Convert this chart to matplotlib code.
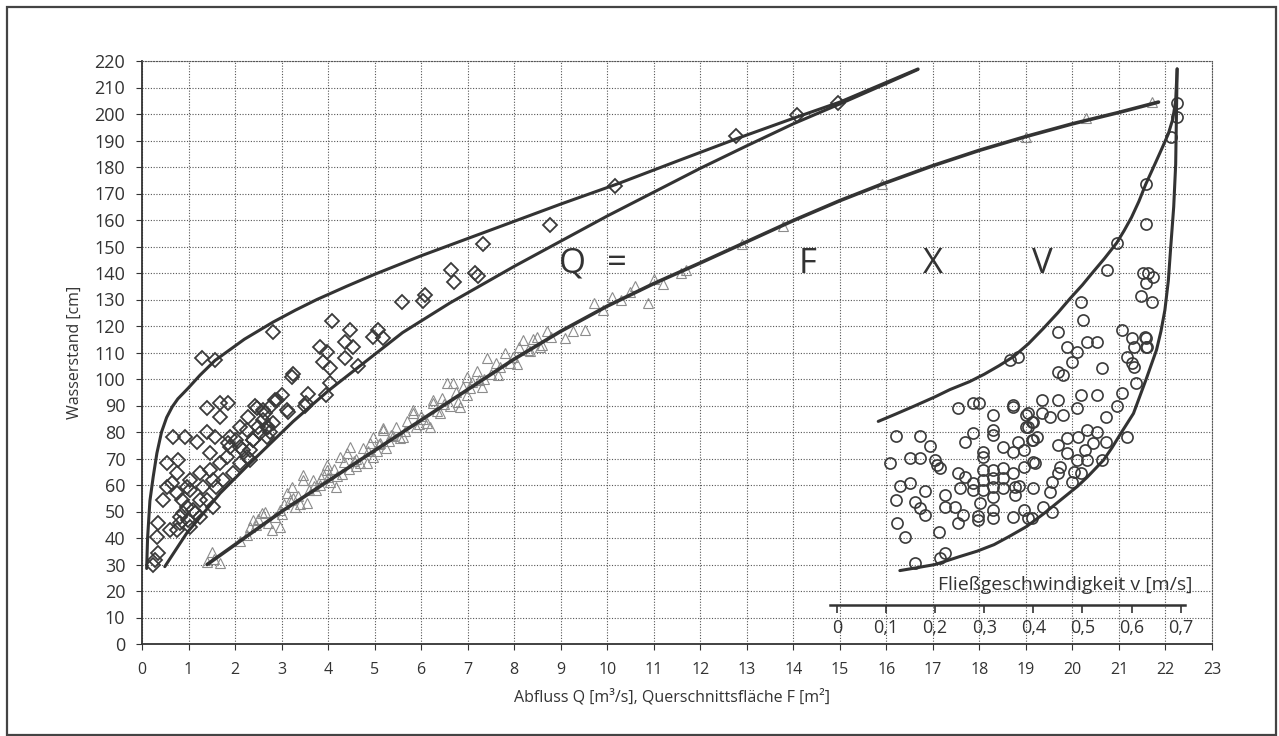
import matplotlib
matplotlib.use("Agg")
import matplotlib.pyplot as plt
from matplotlib.patches import Rectangle

plt.rcParams['font.family'] = ['Open Sans', 'DejaVu Sans']

# --- Abfluss Q [m3/s] vs Wasserstand [cm] (diamonds) ---
q_abfluss = [0.24, 0.28, 0.34, 0.32, 0.34, 0.45, 0.53, 0.64, 0.53, 0.77, 0.67, 0.92, 1.18, 1.28, 1.57,
             0.6, 0.96, 0.99, 0.82, 1.14, 1.25, 0.85, 0.75, 1.03, 1.31, 1.6, 1.25, 1.46, 1.68, 1.46,
             1.82, 1.89, 2.03, 2.25, 2.32, 2.1, 1.96, 1.74, 1.53, 1.25, 1.03, 0.82, 0.75, 0.96, 0.75,
             1.03, 1.39, 1.53, 1.1, 0.89, 2.39, 2.54, 2.68, 2.82, 2.6, 2.25, 2.1, 2.1, 2.68, 1.39,
             1.57, 1.85, 1.89, 1.68, 1.85, 1.39, 1.68, 2.28, 2.47, 2.43, 2.64, 2.75, 2.9, 3.0, 3.14,
             3.25, 3.22, 3.53, 3.57, 3.96, 4.04, 2.82, 4.08, 4.47, 4.54, 4.36, 3.83, 3.89, 4.04, 4.36,
             4.64, 4.97, 5.07, 5.18, 3.11, 2.86, 2.6, 2.5, 2.71, 2.75, 2.39, 2.18, 2.32, 3.5, 3.97,
             5.59, 6.08, 6.04, 6.64, 6.71, 7.16, 7.22, 7.33, 8.77, 10.17, 12.77, 14.08, 14.96]
h_abfluss = [29.8, 31.7, 34.3, 40.5, 45.6, 54.3, 68.2, 60.7, 59.4, 69.4, 78.2, 78.2, 76.3, 107.8, 107.0,
             43.0, 51.8, 46.8, 48.0, 49.4, 54.3, 54.3, 57.0, 58.0, 59.4, 59.4, 64.5, 65.7, 68.2, 72.0,
             70.7, 74.5, 77.0, 70.7, 73.2, 68.2, 64.5, 61.9, 61.9, 48.0, 44.3, 45.6, 43.0, 59.4, 64.5,
             61.9, 54.3, 51.8, 50.6, 49.4, 77.0, 79.6, 82.0, 83.4, 84.5, 80.8, 82.0, 74.5, 78.2, 80.0,
             78.0, 75.8, 78.2, 85.8, 91.0, 89.0, 91.0, 85.8, 89.0, 90.0, 87.0, 89.6, 92.0, 94.0, 87.7,
             102.0, 100.6, 91.0, 94.4, 94.0, 98.4, 117.6, 122.0, 118.5, 112.0, 114.0, 112.0, 106.5, 104.0, 108.0,
             105.0, 116.0, 118.5, 115.5, 88.3, 92.0, 88.3, 82.0, 82.0, 80.0, 77.0, 73.2, 69.4, 89.8, 110.3,
             129.0, 131.7, 129.4, 141.0, 136.6, 140.0, 139.0, 151.0, 158.0, 173.0, 191.7, 199.6, 204.0]

# --- Querschnittsflaeche F [m2] vs Wasserstand [cm] (triangles) ---
f_flaeche = [1.39, 1.5, 1.68, 1.55, 2.32, 2.39, 2.25, 2.5, 2.57, 2.64, 2.79, 2.85, 2.97, 2.97, 3.05,
             3.11, 3.18, 3.22, 3.29, 3.35, 3.46, 3.47, 3.54, 3.6, 3.68, 3.75, 3.82, 3.9, 3.97, 3.97,
             4.05, 4.12, 4.18, 4.26, 4.3, 4.4, 4.45, 4.47, 4.55, 4.61, 4.69, 4.75, 4.83, 4.9, 4.97,
             4.97, 5.05, 5.12, 5.18, 5.19, 5.25, 5.35, 5.45, 5.55, 5.62, 5.7, 5.83, 5.83, 5.9, 6.0,
             6.12, 6.19, 6.26, 6.26, 6.35, 6.45, 6.55, 6.62, 6.69, 6.75, 6.84, 6.9, 6.98, 6.98, 7.1,
             7.2, 7.3, 7.41, 7.5, 7.6, 7.7, 7.8, 7.9, 7.98, 8.1, 8.2, 8.3, 8.4, 8.49, 8.6,
             8.7, 8.8, 9.27, 9.52, 9.72, 9.9, 10.1, 10.3, 10.5, 10.6, 10.88, 11.0, 11.2, 11.58, 11.7,
             12.9, 13.78, 15.9, 19.0, 20.3, 21.7,
             2.1, 2.7, 3.0, 3.4, 3.7, 4.0, 4.35, 4.6, 4.85, 5.1, 5.4, 5.65, 6.05, 6.4, 6.8,
             7.05, 7.35, 7.65, 8.05, 8.35, 8.55, 9.1, 2.45, 3.25, 3.85, 4.2, 5.3, 5.95, 6.5, 7.25]
h_flaeche = [31.0, 34.8, 30.4, 32.0, 44.3, 46.8, 41.0, 47.0, 49.4, 49.9, 43.0, 48.0, 44.3, 50.6, 53.0,
             56.9, 54.3, 59.4, 51.8, 56.0, 61.9, 63.8, 53.2, 58.0, 62.0, 58.0, 60.0, 64.0, 65.7, 67.5,
             61.0, 66.0, 59.4, 70.7, 64.0, 72.0, 66.0, 74.5, 69.0, 67.0, 68.2, 74.0, 68.2, 76.0, 70.7,
             78.2, 73.0, 76.0, 80.8, 81.4, 74.0, 79.0, 82.0, 77.7, 78.2, 84.0, 87.0, 88.3, 82.0, 86.0,
             83.3, 82.0, 91.0, 92.0, 88.0, 93.0, 98.4, 90.0, 98.4, 95.0, 89.6, 97.0, 100.9, 94.0, 99.0,
             103.0, 97.0, 107.8, 102.0, 106.0, 104.7, 110.0, 106.0, 108.4, 112.0, 114.7, 111.0, 115.0, 116.0, 113.0,
             118.0, 116.0, 118.0, 118.5, 128.7, 126.0, 131.0, 130.0, 133.0, 135.0, 128.7, 137.7, 136.0, 140.0, 141.0,
             151.0, 157.7, 173.5, 191.5, 198.5, 204.5,
             39.0, 45.5, 49.0, 53.0, 59.5, 63.0, 68.5, 70.0, 73.0, 75.5, 78.5, 80.5, 85.0, 87.0, 91.5,
             96.5, 100.0, 101.5, 105.5, 110.5, 112.0, 115.5, 45.0, 55.0, 62.5, 63.5, 76.5, 83.0, 90.5, 99.5]

# --- Fliessgeschwindigkeit v [m/s] vs Wasserstand [cm] (circles) ---
v_geschw = [0.247, 0.278, 0.29, 0.359, 0.318, 0.278, 0.261, 0.318, 0.318, 0.298, 0.298, 0.339, 0.369, 0.359, 0.38,
            0.39, 0.4, 0.39, 0.397, 0.12, 0.169, 0.19, 0.149, 0.169, 0.108, 0.2, 0.203, 0.21, 0.128, 0.149,
            0.179, 0.12, 0.159, 0.169, 0.179, 0.122, 0.138, 0.208, 0.22, 0.21, 0.159, 0.22, 0.22, 0.24, 0.247,
            0.25, 0.261, 0.278, 0.278, 0.257, 0.247, 0.291, 0.288, 0.288, 0.298, 0.298, 0.298, 0.318, 0.318, 0.318,
            0.318, 0.339, 0.339, 0.339, 0.359, 0.362, 0.362, 0.318, 0.318, 0.359, 0.38, 0.38, 0.37, 0.4, 0.4,
            0.39, 0.498, 0.502, 0.451, 0.468, 0.488, 0.478, 0.509, 0.529, 0.539, 0.451, 0.461, 0.58, 0.6, 0.605,
            0.627, 0.631, 0.59, 0.6, 0.606, 0.61, 0.58, 0.57, 0.549, 0.59, 0.539, 0.529, 0.509, 0.492, 0.522,
            0.549, 0.505, 0.488, 0.509, 0.468, 0.468, 0.451, 0.454, 0.482, 0.498, 0.451, 0.437, 0.478, 0.434, 0.42,
            0.437, 0.397, 0.404, 0.4, 0.417, 0.417, 0.434, 0.451, 0.461, 0.488, 0.498, 0.529, 0.359, 0.352, 0.369,
            0.386, 0.397, 0.386, 0.407, 0.629, 0.629, 0.57, 0.551, 0.624, 0.634, 0.643, 0.629, 0.62, 0.641, 0.629,
            0.629, 0.692, 0.692, 0.681]
h_geschw = [88.9, 91.0, 91.0, 90.2, 86.4, 79.5, 76.3, 80.8, 79.0, 72.6, 70.4, 74.5, 76.3, 72.6, 73.2,
            87.0, 83.9, 81.7, 77.0, 78.5, 78.5, 74.7, 70.3, 70.3, 68.2, 69.4, 67.5, 66.3, 59.6, 60.6,
            57.7, 54.3, 53.7, 51.2, 48.7, 45.8, 40.5, 42.4, 34.5, 32.3, 30.7, 56.2, 51.8, 51.8, 64.4,
            58.8, 63.1, 60.6, 58.0, 48.7, 45.8, 53.1, 48.3, 46.8, 65.7, 61.9, 58.2, 65.7, 62.5, 59.4,
            55.6, 66.3, 62.5, 58.7, 64.4, 59.4, 56.2, 50.6, 47.4, 48.0, 50.6, 66.9, 59.6, 68.8, 58.8,
            47.4, 129.2, 122.3, 117.9, 112.2, 110.3, 106.5, 114.1, 114.1, 104.0, 102.8, 101.5, 118.5, 115.4, 112.0,
            116.0, 112.2, 108.4, 105.9, 104.7, 98.4, 94.6, 89.8, 85.5, 78.2, 69.4, 80.1, 80.8, 78.2, 75.7,
            76.4, 73.2, 69.4, 69.4, 72.0, 77.6, 75.1, 66.9, 65.0, 64.4, 64.4, 61.3, 61.3, 57.5, 51.8,
            50.0, 47.4, 68.2, 77.0, 92.0, 87.0, 85.8, 92.0, 86.4, 88.9, 94.0, 94.0, 89.6, 107.2, 108.4,
            86.4, 83.9, 82.0, 78.2, 173.5, 158.5, 151.4, 141.1, 140.1, 139.9, 138.4, 136.1, 131.4, 129.2, 115.4,
            112.0, 204.0, 199.0, 191.2]

# --- envelope / fitted curves ---
q_ob_x = [0.1, 0.12, 0.17, 0.24, 0.32, 0.42, 0.53, 0.65, 0.77, 0.99, 1.25, 1.57, 2.2, 2.82, 3.3,
          3.76, 4.4, 5.0, 6.0, 7.0, 8.0, 9.0, 10.2, 11.5, 12.8, 14.1, 15.0, 16.68]
q_ob_y = [28.5, 40, 54, 63, 72, 80, 85.5, 89.5, 92.5, 96.5, 101.5, 107, 115, 121.5, 126,
          130, 135, 139.5, 146.5, 153, 159.5, 166, 173.5, 182.2, 190.8, 199, 204.5, 217]
q_un_x = [0.49, 0.96, 1.68, 2.32, 3.25, 4.0, 4.69, 5.6, 6.62, 8.0, 9.0, 10.0, 11.0, 12.0, 13.0,
          14.0, 15.0, 16.0, 16.68]
q_un_y = [29.2, 41.8, 56.9, 68.2, 84.0, 95.5, 105, 117.5, 128.7, 142.5, 152, 161.5, 170.5, 179.5, 188,
          196.3, 203.8, 211.5, 216.8]
f_kurve_x = [1.4, 2.0, 3.0, 4.0, 5.0, 6.0, 7.0, 8.0, 9.0, 10.0, 11.0, 12.0, 12.9, 14.0, 15.0,
             15.9, 17.0, 18.0, 19.0, 20.0, 21.0, 21.85]
f_kurve_y = [30, 37.5, 50, 61.5, 73, 84.5, 96, 107.5, 118, 127.5, 136, 143.8, 151, 159.8, 167.3,
             173.5, 180.5, 186.3, 191.5, 196.3, 200.6, 204.5]
v_ob_x = [0.084, 0.12, 0.16, 0.20, 0.23, 0.27, 0.30, 0.33, 0.36, 0.39, 0.42, 0.45, 0.475, 0.50, 0.52,
          0.545, 0.57, 0.585, 0.60, 0.615, 0.629, 0.645, 0.662, 0.675, 0.684, 0.69, 0.693]
v_ob_y = [84, 86.8, 90, 93.3, 96, 99, 101.8, 105, 108.5, 113.3, 119, 125, 130.4, 135.5, 140,
          145.5, 151.4, 156, 161, 167, 173.5, 180, 187, 192.5, 198, 205, 217]
v_un_x = [0.128, 0.16, 0.20, 0.25, 0.285, 0.32, 0.35, 0.386, 0.42, 0.46, 0.49, 0.51, 0.543, 0.56, 0.58,
          0.604, 0.62, 0.63, 0.651, 0.66, 0.668, 0.675, 0.68, 0.686, 0.69, 0.693]
v_un_y = [27.7, 28.7, 30, 33, 35, 37.5, 40.5, 44.3, 49, 55, 59.5, 63, 69.4, 74, 80,
          87, 95, 100, 111, 118, 126, 137, 150, 165, 181, 217]

x_ticks = list(range(0, 24))
y_ticks = list(range(0, 221, 10))
v_ticks = [0, 0.1, 0.2, 0.3, 0.4, 0.5, 0.6, 0.7]
v_labels = ['0', '0,1', '0,2', '0,3', '0,4', '0,5', '0,6', '0,7']

W, H = 1279, 736
dark = '#333333'

fig = plt.figure(figsize=(W / 100, H / 100), dpi=100)
fig.add_artist(Rectangle((7 / W, 1 / H), 1269 / W, 728 / H, transform=fig.transFigure,
                         fill=False, lw=1.6, ec='#444444'))

ax = fig.add_axes([142 / W, 1 - 644 / H, 1070 / W, 583 / H])
ax.set_xlim(0, 23)
ax.set_ylim(0, 220)
ax.set_xticks(x_ticks)
ax.set_yticks(y_ticks)
ax.grid(True, ls=(0, (1, 1.5)), color='#555555', lw=0.8)
ax.set_axisbelow(True)
for s in ['top', 'right']:
    ax.spines[s].set_linestyle((0, (1, 1.5)))
    ax.spines[s].set_color('#555555')
    ax.spines[s].set_linewidth(0.8)
for s in ['left', 'bottom']:
    ax.spines[s].set_color(dark)
    ax.spines[s].set_linewidth(1.3)
ax.tick_params(axis='y', labelsize=13, length=4, pad=8, colors=dark)
ax.tick_params(axis='x', labelsize=11.5, length=4, pad=9, colors=dark)

ax.plot(f_flaeche, h_flaeche, ls='none', marker='^', ms=7.5, mfc='none', mec='#8c8c8c', mew=0.8)
ax.plot(q_abfluss, h_abfluss, ls='none', marker='D', ms=7, mfc='none', mec='#3a3a3a', mew=1.3)
ax.plot(q_ob_x, q_ob_y, color=dark, lw=2.2, solid_capstyle='round', solid_joinstyle='round')
ax.plot(q_un_x, q_un_y, color=dark, lw=2.2, solid_capstyle='round', solid_joinstyle='round')
ax.plot(f_kurve_x, f_kurve_y, color=dark, lw=2.6, solid_capstyle='round', solid_joinstyle='round')

ax.text(9.25, 140, 'Q', fontsize=25, color=dark, ha='center', va='baseline')
ax.text(10.2, 140, '=', fontsize=25, color=dark, ha='center', va='baseline')
ax.text(14.3, 140, 'F', fontsize=25, color=dark, ha='center', va='baseline')
ax.text(17.0, 140, 'X', fontsize=25, color=dark, ha='center', va='baseline')
ax.text(19.36, 140, 'V', fontsize=25, color=dark, ha='center', va='baseline')

fig.text(75 / W, 1 - 352 / H, 'Wasserstand [cm]', rotation=90, ha='center', va='center',
         fontsize=11.5, color=dark)
fig.text(672 / W, 1 - 697 / H, 'Abfluss Q [m³/s], Querschnittsfläche F [m²]', ha='center',
         va='center', fontsize=11.5, color=dark)

# inset axis for velocity
axv = fig.add_axes([830 / W, 1 - 644 / H, 355 / W, 583 / H])
axv.patch.set_alpha(0)
axv.set_xlim(-0.0143, 0.709)
axv.set_ylim(0, 220)
axv.set_yticks([])
for s in ['top', 'right', 'left']:
    axv.spines[s].set_visible(False)
axv.spines['bottom'].set_position(('data', 14.7))
axv.spines['bottom'].set_linewidth(1.8)
axv.spines['bottom'].set_color(dark)
axv.set_xticks(v_ticks)
axv.set_xticklabels(v_labels)
axv.tick_params(axis='x', labelsize=13, length=6, width=1.2, pad=4, colors=dark)

axv.plot(v_geschw, h_geschw, ls='none', marker='o', ms=8, mfc='none', mec='#3a3a3a', mew=1.2)
axv.plot(v_ob_x, v_ob_y, color=dark, lw=2.2, solid_capstyle='round', solid_joinstyle='round')
axv.plot(v_un_x, v_un_y, color=dark, lw=2.2, solid_capstyle='round', solid_joinstyle='round')
axv.text(0.725, 22.3, 'Fließgeschwindigkeit v [m/s]', ha='right', va='center', fontsize=14, color=dark)

fig.savefig('out.png', dpi=100)
